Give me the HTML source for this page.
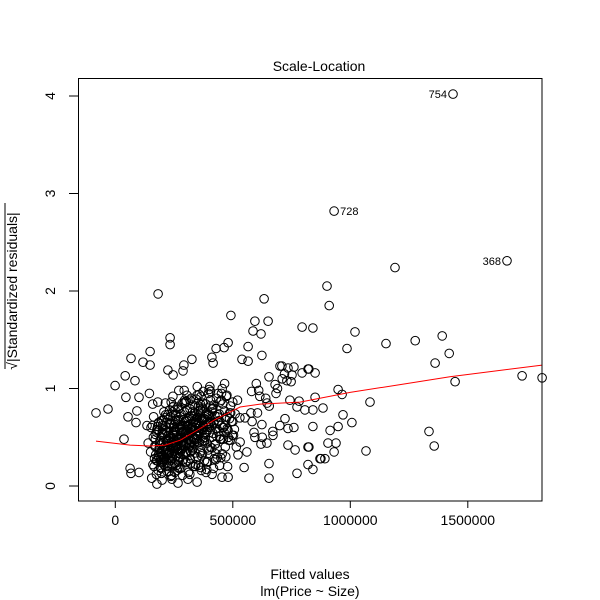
<!DOCTYPE html>
<html><head><meta charset="utf-8"><style>
html,body{margin:0;padding:0;background:#fff;}
svg{display:block;font-family:"Liberation Sans",Arial,sans-serif;}
</style></head><body>
<svg id="chart" width="600" height="600" viewBox="0 0 600 600">
<rect x="0" y="0" width="600" height="600" fill="#fff"/>
<g id="pts"></g>
<path id="smooth" fill="none" stroke="#ff0000" stroke-width="1"/>
<rect x="78.5" y="78.5" width="463.5" height="422.5" fill="none" stroke="#000" stroke-width="1"/>
<g id="xaxis"></g>
<g id="yaxis"></g>
<g id="labels"></g>
<text x="319" y="71" font-size="14" text-anchor="middle">Scale-Location</text>
<text x="310" y="579" font-size="14" text-anchor="middle">Fitted values</text>
<text x="310" y="596" font-size="14" text-anchor="middle">lm(Price ~ Size)</text>
<g transform="translate(17,291) rotate(-90)">
<text x="0" y="0" font-size="14" text-anchor="middle">√|Standardized residuals|</text>
<line x1="-78" y1="-12" x2="88" y2="-12" stroke="#000" stroke-width="1"/>
</g>
</svg>
<script>
const xTicks=[0,500000,1000000,1500000];
const xTickLabels=["0","500000","1000000","1500000"];
const yTicks=[0,1,2,3,4];
const yTickLabels=["0","1","2","3","4"];
// fitted values (thousands) and sqrt|std resid|
const fitX=[-82,-31,-1,42,45,67,84,118,148,148,182,233,233,224,246,288,292,326,411,416,429,463,480,492,565,539,565,624,586,594,620,633,650,709,795,841,820,850,901,910,986,1020,948,969,1007,37,54,88,92,101,63,67,101,177,199,241,267,309,348,454,480,548,654,654,620,624,594,671,582,577,552,531,560,522,735,735,765,773,820,820,841,841,875,892,905,931,939,884,807,841,722,743,782,850,680,684,654,646,1152,1276,1391,1421,1361,1446,1731,1816,1084,1335,1357,1067,948,914,965,871,824,773,701,735,752,748,795,824,1437,931,1667,1190,
150,160,170,175,180,185,190,195,200,205,210,215,220,225,230,235,240,245,250,255,260,265,270,275,280,285,290,295,300,305,310,315,320,325,330,335,340,345,350,355,360,365,370,375,380,385,390,395,400,405,410,415,420,425,430,435,440,445,450,455,460,465,470,475,480,490,500,510,520,530,
155,168,178,187,196,204,212,219,227,236,243,252,258,266,273,281,289,296,303,311,318,327,334,342,351,358,366,373,382,389,397,404,413,421,428,437,446,455,466,478,491,503,515,
162,172,183,193,201,209,217,224,232,239,247,254,262,269,277,284,292,299,306,314,321,329,337,344,352,361,369,377,386,394,402,411,419,427,436,444,452,461,470,482,495,507,
158,171,186,199,208,214,222,229,237,244,249,257,263,271,279,287,294,301,308,316,323,331,339,348,356,363,371,379,387,396,405,416,424,433,441,449,458,468,476,487,498,
165,176,189,197,206,216,226,234,241,250,259,268,276,283,291,298,305,313,320,328,336,343,353,362,372,381,391,399,409,418,431,442,457,472,486,500,
140,152,163,181,192,202,211,221,231,240,248,256,264,272,280,288,297,304,312,319,326,335,345,354,364,374,383,393,403,414,426,438,451,463,475,489,
145,167,184,198,213,228,245,261,278,293,309,324,340,357,371,388,402,418,434,449,465,481,
135,159,177,194,207,223,238,253,270,286,302,317,332,349,366,380,396,412,428,444,
600,610,625,640,655,690,710,760,730,700,615,605,645,670,720,760,590,580,
182,190,203,211,218,226,233,242,251,259,266,274,283,290,298,307,315,322,330,338,347,355,363,372,380,388,397,405,
188,196,206,214,221,230,238,246,255,262,270,279,287,295,302,310,319,328,336,344,353,361,369,378,386,394,
175,186,195,207,215,223,232,241,249,257,267,275,284,292,300,308,317,325,333,341,350,359,368,376,385,393,401,410,
192,201,210,220,229,237,246,254,263,271,280,288,296,305,313,321,330,339,347,356,
170,180,193,204,213,224,235,244,256,265,276,285,297,306,318,327,339,348,360
];
const fitY=[0.75,0.79,1.03,1.13,0.91,1.31,1.08,1.27,1.38,1.24,1.97,1.52,1.45,1.19,1.14,1.18,1.24,1.30,1.32,1.26,1.41,1.42,1.47,1.75,1.43,1.30,1.28,1.34,1.59,1.69,1.56,1.92,1.69,1.23,1.63,1.62,1.20,1.16,2.05,1.85,1.41,1.58,0.99,0.73,0.65,0.48,0.71,0.65,0.77,0.91,0.18,0.13,0.14,0.02,0.06,0.07,0.03,0.07,0.04,0.09,0.09,0.19,0.08,0.23,0.43,0.63,0.50,0.52,0.66,0.75,0.70,0.45,0.35,0.32,0.59,0.42,0.37,0.13,0.40,0.22,0.17,0.61,0.28,0.28,0.44,0.35,0.44,0.80,0.78,0.78,0.69,0.88,0.87,0.91,1.04,0.95,1.12,0.85,1.46,1.49,1.54,1.36,1.26,1.07,1.13,1.11,0.86,0.56,0.41,0.36,0.61,0.57,0.94,0.28,0.40,0.81,1.23,1.21,1.14,1.07,1.16,1.20,4.02,2.82,2.31,2.24,
0.35,0.22,0.48,0.12,0.61,0.30,0.44,0.18,0.55,0.27,0.70,0.38,0.15,0.52,0.64,0.29,0.45,0.81,0.36,0.58,0.21,0.67,0.49,0.33,0.74,0.56,0.41,0.88,0.25,0.62,0.47,0.71,0.35,0.59,0.83,0.44,0.68,0.52,0.30,0.77,0.61,0.92,0.46,0.69,0.55,0.84,0.39,0.73,0.60,0.97,0.50,0.80,0.65,0.43,0.90,0.71,0.56,0.86,0.62,1.00,0.48,0.77,0.68,0.93,0.57,0.82,0.66,0.74,0.88,0.70,
0.08,0.41,0.26,0.57,0.13,0.39,0.62,0.24,0.46,0.10,0.53,0.33,0.72,0.19,0.60,0.42,0.27,0.66,0.51,0.14,0.79,0.37,0.58,0.22,0.70,0.45,0.31,0.85,0.53,0.17,0.64,0.40,0.76,0.28,0.59,0.95,0.48,0.33,0.62,0.20,0.75,0.52,0.40,
0.50,0.32,0.16,0.43,0.58,0.28,0.47,0.68,0.36,0.11,0.54,0.78,0.42,0.25,0.63,0.49,0.85,0.33,0.57,0.71,0.23,0.60,0.44,0.89,0.52,0.34,0.69,0.46,0.14,0.58,0.82,0.39,0.64,0.27,0.73,0.51,0.95,0.60,0.30,0.47,0.66,0.58,
0.62,0.40,0.29,0.53,0.36,0.73,0.20,0.49,0.64,0.30,0.82,0.45,0.16,0.68,0.38,0.55,0.76,0.24,0.61,0.43,0.90,0.50,0.34,0.70,0.57,0.19,0.80,0.46,0.63,0.37,0.88,0.54,0.72,0.29,0.67,0.48,0.84,0.40,0.59,0.75,0.52,
0.20,0.55,0.38,0.67,0.45,0.26,0.52,0.71,0.34,0.60,0.46,0.79,0.30,0.58,0.68,0.41,0.93,0.54,0.36,0.76,0.49,0.65,0.21,0.84,0.57,0.71,0.44,0.99,0.62,0.83,0.51,0.74,0.60,0.92,0.69,0.86,
0.44,0.60,0.71,0.86,0.27,0.62,0.41,0.33,0.78,0.20,0.56,0.74,0.48,0.18,0.62,0.39,0.86,0.67,0.53,0.28,0.45,0.72,0.59,0.82,0.36,0.97,0.50,0.25,0.64,0.79,0.43,0.66,0.88,0.55,0.71,0.47,
0.95,0.28,0.65,0.24,0.85,0.15,0.92,0.31,0.18,0.98,0.26,0.58,0.20,0.94,0.33,0.24,1.02,0.18,0.38,0.29,1.05,0.50,
0.62,0.84,0.58,0.35,0.76,0.42,0.86,0.14,0.98,0.11,0.87,0.12,0.20,1.02,0.16,0.26,0.95,0.12,0.33,0.21,
1.05,0.98,0.50,0.90,0.82,1.00,1.10,1.22,1.08,0.62,0.92,0.75,0.44,0.56,1.15,0.60,0.55,0.97,
0.31,0.47,0.25,0.40,0.55,0.34,0.50,0.28,0.63,0.43,0.37,0.58,0.46,0.32,0.66,0.52,0.41,0.72,0.57,0.48,0.63,0.54,0.78,0.61,0.69,0.55,0.74,0.66,
0.42,0.29,0.53,0.38,0.45,0.60,0.33,0.49,0.41,0.56,0.47,0.36,0.62,0.52,0.44,0.69,0.58,0.50,0.75,0.64,0.56,0.80,0.68,0.60,0.84,0.72,
0.26,0.38,0.33,0.22,0.36,0.48,0.31,0.42,0.52,0.39,0.28,0.50,0.44,0.56,0.35,0.61,0.47,0.40,0.66,0.53,0.45,0.70,0.59,0.49,0.74,0.64,0.55,0.79,
0.19,0.24,0.29,0.21,0.33,0.26,0.40,0.23,0.37,0.30,0.45,0.27,0.50,0.35,0.43,0.55,0.39,0.60,0.48,0.65,
0.53,0.58,0.64,0.68,0.57,0.73,0.63,0.76,0.67,0.81,0.71,0.85,0.62,0.77,0.88,0.69,0.82,0.93,0.74
];
const labelNames=["754","728","368"];
const labelX=[1437,931,1667];
const labelY=[4.02,2.82,2.31];
const smoothX=[-82,63,148,212,276,361,424,531,616,786,999,1212,1424,1816];
const smoothY=[0.46,0.42,0.41,0.42,0.47,0.59,0.68,0.81,0.84,0.86,0.96,1.04,1.12,1.24];

const NS="http://www.w3.org/2000/svg";
function sx(vk){return 115.3+vk/4.2553;}
function sxFull(v){return 115.3+v/4255.3;}
function sy(v){return 486-v*97.5;}
function mk(t,a){const e=document.createElementNS(NS,t);for(const k in a)e.setAttribute(k,a[k]);return e;}

const pts=document.getElementById('pts');
for(let i=0;i<fitX.length;i++){
  const c=mk('circle',{cx:sx(fitX[i]).toFixed(1),cy:sy(fitY[i]).toFixed(1),r:4.3,fill:'none',stroke:'#000','stroke-width':1});
  
  
  pts.appendChild(c);
}
let d='';
for(let i=0;i<smoothX.length;i++){d+=(i?'L':'M')+sx(smoothX[i]).toFixed(1)+','+sy(smoothY[i]).toFixed(1);}
document.getElementById('smooth').setAttribute('d',d);

const xa=document.getElementById('xaxis');
const xl=mk('line',{x1:sxFull(xTicks[0]),x2:sxFull(xTicks[xTicks.length-1]),y1:501,y2:501,stroke:'#000'});


xa.appendChild(xl);
xTicks.forEach((t,i)=>{
  const x=sxFull(t);
  const tk=mk('line',{x1:x,x2:x,y1:501,y2:508,stroke:'#000'});
  
  
  xa.appendChild(tk);
  const tx=mk('text',{x:x,y:525,'font-size':14,'text-anchor':'middle'});
  
  
  tx.textContent=xTickLabels[i];xa.appendChild(tx);
});
const ya=document.getElementById('yaxis');
const yl=mk('line',{x1:78.5,x2:78.5,y1:sy(yTicks[0]),y2:sy(yTicks[yTicks.length-1]),stroke:'#000'});


ya.appendChild(yl);
yTicks.forEach((t,i)=>{
  const y=sy(t);
  const tk=mk('line',{x1:69,x2:78.5,y1:y,y2:y,stroke:'#000'});
  
  
  ya.appendChild(tk);
  const tx=mk('text',{x:0,y:0,'font-size':14,'text-anchor':'middle',transform:'translate(55,'+y+') rotate(-90)'});
  
  
  tx.textContent=yTickLabels[i];ya.appendChild(tx);
});
const lg=document.getElementById('labels');
labelNames.forEach((n,i)=>{
  const right=(i!==1);
  const x=sx(labelX[i])+(right?-6:6), y=sy(labelY[i])+4;
  const tx=mk('text',{x:x,y:y,'font-size':11,'text-anchor':right?'end':'start'});
  
  
  tx.textContent=n;lg.appendChild(tx);
});
</script>
</body></html>
